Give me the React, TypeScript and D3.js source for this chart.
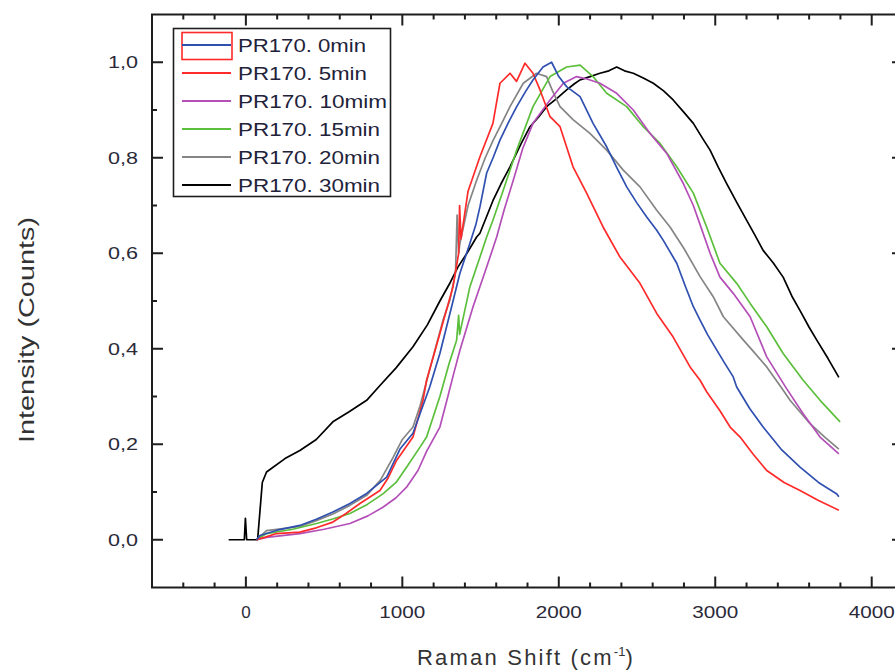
import React from "react";
import * as d3 from "d3";

type Pt = [number, number];

const seriesNames = [
  "PR170. 0min",
  "PR170. 5min",
  "PR170. 10mim",
  "PR170. 15min",
  "PR170. 20min",
  "PR170. 30min",
];
const seriesColors = ["#3050b0", "#ff2a2a", "#b44fb8", "#5cbf3c", "#858585", "#000000"];

const blue0: Pt[] = [
  [68, 0], [90, 0.009], [200, 0.02], [345, 0.03], [450, 0.043], [556, 0.058], [665, 0.076],
  [772, 0.097], [900, 0.131], [985, 0.19], [1068, 0.223], [1113, 0.264], [1175, 0.32],
  [1240, 0.39], [1315, 0.488], [1368, 0.558], [1432, 0.621], [1470, 0.66], [1496, 0.697],
  [1539, 0.768], [1580, 0.8], [1624, 0.837], [1680, 0.875], [1731, 0.907], [1790, 0.94],
  [1835, 0.963], [1899, 0.99], [1954, 1.0], [2000, 0.97], [2050, 0.949], [2136, 0.928],
  [2219, 0.872], [2306, 0.823], [2370, 0.78], [2434, 0.739], [2500, 0.705], [2562, 0.676],
  [2626, 0.648], [2668, 0.627], [2754, 0.579], [2810, 0.53], [2860, 0.488], [2903, 0.46],
  [2950, 0.43], [3010, 0.397], [3060, 0.37], [3115, 0.341], [3137, 0.32], [3220, 0.275],
  [3306, 0.236], [3420, 0.19], [3542, 0.152], [3660, 0.12], [3777, 0.096], [3790, 0.09],
];

const red5: Pt[] = [
  [68, 0], [120, 0.005], [196, 0.013], [345, 0.016], [450, 0.025], [556, 0.037], [640, 0.055],
  [729, 0.076], [857, 0.103], [910, 0.13], [963, 0.166], [1068, 0.215], [1132, 0.292],
  [1155, 0.334], [1240, 0.432], [1324, 0.53], [1360, 0.6], [1366, 0.7], [1375, 0.63],
  [1420, 0.73], [1496, 0.802], [1579, 0.872], [1610, 0.93], [1624, 0.956], [1688, 0.977],
  [1730, 0.96], [1784, 0.998], [1835, 0.977], [1880, 0.942], [1944, 0.886], [2008, 0.865],
  [2091, 0.781], [2178, 0.726], [2283, 0.655], [2391, 0.592], [2519, 0.537], [2626, 0.474],
  [2730, 0.425], [2839, 0.362], [2903, 0.334], [2945, 0.31], [3030, 0.27], [3095, 0.236],
  [3159, 0.215], [3240, 0.18], [3329, 0.145], [3440, 0.12], [3542, 0.103], [3660, 0.082],
  [3790, 0.062],
];

const magenta10: Pt[] = [
  [68, 0], [132, 0.005], [345, 0.013], [500, 0.022], [665, 0.034], [780, 0.05], [876, 0.068],
  [960, 0.088], [1027, 0.11], [1100, 0.145], [1155, 0.185], [1240, 0.236], [1283, 0.29],
  [1330, 0.35], [1368, 0.397], [1452, 0.488], [1539, 0.571], [1603, 0.634], [1650, 0.69],
  [1709, 0.753], [1770, 0.82], [1835, 0.872], [1944, 0.921], [2029, 0.956], [2114, 0.97],
  [2180, 0.965], [2263, 0.956], [2370, 0.935], [2476, 0.9], [2583, 0.851], [2690, 0.809],
  [2796, 0.746], [2860, 0.7], [2903, 0.66], [2967, 0.6], [3030, 0.55], [3115, 0.516],
  [3223, 0.467], [3329, 0.383], [3457, 0.316], [3562, 0.264], [3670, 0.215], [3790, 0.18],
];

const green15: Pt[] = [
  [68, 0], [132, 0.013], [300, 0.022], [452, 0.034], [560, 0.044], [665, 0.055], [776, 0.074],
  [876, 0.096], [960, 0.12], [1027, 0.152], [1113, 0.194], [1155, 0.215], [1240, 0.3],
  [1300, 0.37], [1347, 0.418], [1360, 0.47], [1366, 0.43], [1432, 0.53], [1496, 0.592],
  [1539, 0.634], [1579, 0.669], [1645, 0.732], [1731, 0.816], [1835, 0.907], [1944, 0.97],
  [2050, 0.99], [2136, 0.994], [2219, 0.97], [2306, 0.935], [2434, 0.907], [2540, 0.865],
  [2647, 0.83], [2754, 0.781], [2860, 0.726], [2945, 0.655], [3030, 0.579], [3137, 0.537],
  [3223, 0.495], [3329, 0.446], [3434, 0.39], [3562, 0.334], [3670, 0.292], [3798, 0.247],
];

const grey20: Pt[] = [
  [68, 0], [132, 0.019], [250, 0.024], [345, 0.028], [450, 0.04], [556, 0.054], [665, 0.072],
  [772, 0.093], [860, 0.125], [942, 0.173], [1000, 0.21], [1068, 0.236], [1113, 0.28],
  [1170, 0.35], [1219, 0.41], [1260, 0.46], [1304, 0.502], [1340, 0.56], [1350, 0.68],
  [1360, 0.6], [1368, 0.621], [1420, 0.7], [1475, 0.753], [1530, 0.8], [1581, 0.837],
  [1640, 0.875], [1688, 0.907], [1773, 0.956], [1858, 0.977], [1922, 0.97], [1960, 0.94],
  [2008, 0.907], [2091, 0.88], [2199, 0.851], [2306, 0.816], [2412, 0.774], [2519, 0.739],
  [2626, 0.69], [2711, 0.655], [2800, 0.61], [2903, 0.551], [2987, 0.509], [3052, 0.467],
  [3180, 0.418], [3242, 0.395], [3329, 0.362], [3420, 0.32], [3478, 0.292], [3606, 0.243],
  [3700, 0.215], [3790, 0.19],
];

const black30: Pt[] = [
  [-110, 0], [-10, 0], [-3, 0.045], [5, 0], [75, 0], [90, 0.06], [105, 0.12], [132, 0.142],
  [250, 0.17], [345, 0.187], [450, 0.21], [556, 0.247], [660, 0.268], [772, 0.292],
  [857, 0.323], [960, 0.36], [1068, 0.404], [1160, 0.45], [1240, 0.5], [1300, 0.535],
  [1355, 0.571], [1413, 0.6], [1475, 0.634], [1496, 0.642], [1579, 0.71], [1630, 0.745],
  [1688, 0.781], [1760, 0.83], [1816, 0.865], [1870, 0.885], [1922, 0.907], [1990, 0.925],
  [2050, 0.942], [2100, 0.955], [2136, 0.963], [2200, 0.97], [2263, 0.977], [2320, 0.982],
  [2370, 0.99], [2420, 0.982], [2476, 0.977], [2540, 0.967], [2604, 0.956], [2670, 0.94],
  [2731, 0.921], [2800, 0.895], [2860, 0.872], [2920, 0.84], [2967, 0.816], [3020, 0.78],
  [3073, 0.746], [3140, 0.705], [3201, 0.669], [3250, 0.64], [3306, 0.606], [3370, 0.58],
  [3434, 0.55], [3490, 0.51], [3542, 0.48], [3600, 0.445], [3649, 0.418], [3720, 0.38],
  [3790, 0.34],
];

const allSeries: Pt[][] = [blue0, red5, magenta10, green15, grey20, black30];
const drawOrder = [5, 4, 3, 2, 1, 0];

const xMajorTicks = [0, 1000, 2000, 3000, 4000];
const yMajorTicks = [0, 0.2, 0.4, 0.6, 0.8, 1.0];

const W = 895;
const H = 671;
const L = 152;
const R = 903;
const T = 14.5;
const B = 587.5;

export default function App() {
  const x = d3.scaleLinear().domain([-600, 4200]).range([L, R]);
  const y = d3.scaleLinear().domain([-0.1, 1.1]).range([B, T]);
  const line = d3
    .line<Pt>()
    .x((d) => x(d[0]))
    .y((d) => y(d[1]));

  const xMinor = d3.range(-400, 4201, 200).filter((v) => v % 1000 !== 0);
  const yMinor = d3.range(0.1, 1.0, 0.2);
  const fmtY = (v: number) => d3.format(".1f")(v).replace(".", ",");
  const axisColor = "#1e1e1e";
  const textColor = "#2a2a38";
  const font = "Liberation Sans, Arial, sans-serif";

  return (
    <svg
      width={W}
      height={H}
      style={{ position: "absolute", left: 0, top: 0, background: "#fff" }}
    >
      <defs>
        <clipPath id="plotclip">
          <rect x={L} y={T} width={R - L} height={B - T} />
        </clipPath>
      </defs>
      <rect x={0} y={0} width={W} height={H} fill="#fff" />
      <g clipPath="url(#plotclip)">
        {drawOrder.map((i) => (
          <path
            key={i}
            d={line(allSeries[i]) || ""}
            fill="none"
            stroke={seriesColors[i]}
            strokeWidth={1.7}
            strokeLinejoin="round"
          />
        ))}
      </g>
      {/* frame */}
      <rect x={L} y={T} width={R - L} height={B - T} fill="none" stroke={axisColor} strokeWidth={2} />
      {/* x ticks bottom & top */}
      {xMajorTicks.map((v) => (
        <g key={"xM" + v}>
          <line x1={x(v)} x2={x(v)} y1={B} y2={B - 11} stroke={axisColor} strokeWidth={2} />
          <line x1={x(v)} x2={x(v)} y1={T} y2={T + 11} stroke={axisColor} strokeWidth={2} />
          <text
            x={x(v)}
            y={618}
            textAnchor="middle"
            fontFamily={font}
            fontSize={17}
            fill={textColor}
            textLength={v === 0 ? undefined : 46}
            lengthAdjust="spacingAndGlyphs"
          >
            {String(v)}
          </text>
        </g>
      ))}
      {xMinor.map((v) => (
        <g key={"xm" + v}>
          <line x1={x(v)} x2={x(v)} y1={B} y2={B - 5} stroke={axisColor} strokeWidth={2} />
          <line x1={x(v)} x2={x(v)} y1={T} y2={T + 5} stroke={axisColor} strokeWidth={2} />
        </g>
      ))}
      {/* y ticks left & right */}
      {yMajorTicks.map((v) => (
        <g key={"yM" + v}>
          <line x1={L} x2={L + 11} y1={y(v)} y2={y(v)} stroke={axisColor} strokeWidth={2} />
          <line x1={R} x2={R - 11} y1={y(v)} y2={y(v)} stroke={axisColor} strokeWidth={2} />
          <text
            x={138}
            y={y(v) + 6}
            textAnchor="end"
            fontFamily={font}
            fontSize={17}
            fill={textColor}
            textLength={30}
            lengthAdjust="spacingAndGlyphs"
          >
            {fmtY(v)}
          </text>
        </g>
      ))}
      {yMinor.map((v) => (
        <g key={"ym" + v}>
          <line x1={L} x2={L + 5} y1={y(v)} y2={y(v)} stroke={axisColor} strokeWidth={2} />
          <line x1={R} x2={R - 5} y1={y(v)} y2={y(v)} stroke={axisColor} strokeWidth={2} />
        </g>
      ))}
      {/* axis titles */}
      <text
        x={526}
        y={665}
        textAnchor="middle"
        fontFamily={font}
        fontSize={22}
        letterSpacing={2.2}
        fill="#333"
      >
        <tspan>Raman Shift (cm</tspan>
        <tspan dy={-9} fontSize={13} letterSpacing={0}>-1</tspan>
        <tspan dy={9}>)</tspan>
      </text>
      <text
        transform={`translate(34, 330) rotate(-90)`}
        textAnchor="middle"
        fontFamily={font}
        fontSize={22}
        fill="#333"
        textLength={226}
        lengthAdjust="spacingAndGlyphs"
      >
        Intensity (Counts)
      </text>
      {/* legend */}
      <rect x={173.5} y={28.5} width={217} height={168} fill="#fff" stroke={axisColor} strokeWidth={1.6} />
      {seriesNames.map((name, i) => {
        const cy = 45 + i * 28;
        const widths = [128, 129, 149, 142, 142, 142];
        return (
          <g key={name}>
            {i === 0 && (
              <rect x={182} y={32.5} width={50} height={27} fill="none" stroke="#ff2a2a" strokeWidth={1.6} />
            )}
            <line x1={182} x2={231} y1={cy} y2={cy} stroke={seriesColors[i]} strokeWidth={1.8} />
            <text
              x={238}
              y={cy + 7}
              fontFamily={font}
              fontSize={18}
              fill="#22223a"
              textLength={widths[i]}
              lengthAdjust="spacingAndGlyphs"
            >
              {name}
            </text>
          </g>
        );
      })}
    </svg>
  );
}
